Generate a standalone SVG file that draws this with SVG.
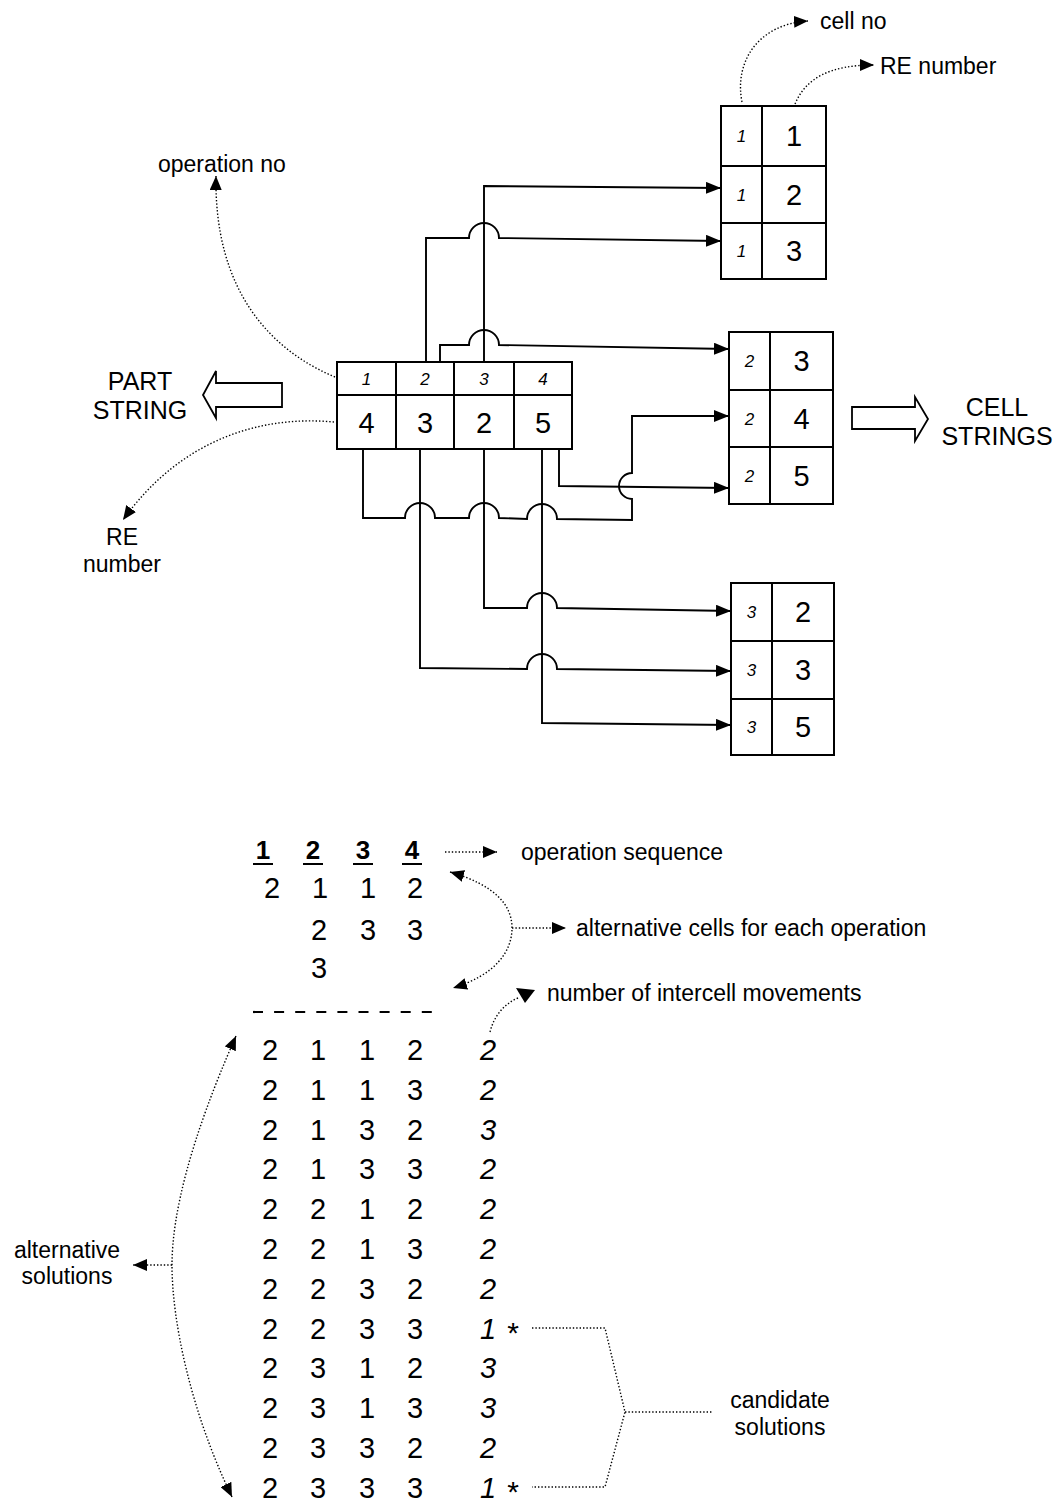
<svg xmlns="http://www.w3.org/2000/svg" width="1056" height="1505" viewBox="0 0 1056 1505">
<style>
text{font-family:"Liberation Sans",Arial,sans-serif;fill:#000}
.box{fill:#fff;stroke:#000;stroke-width:2}
.dv{stroke:#000;stroke-width:2;fill:none}
.big{font-size:29px;text-anchor:middle}
.sm{font-size:17px;font-style:italic;text-anchor:middle}
.op{font-size:17px;font-style:italic;text-anchor:middle}
.lbl{font-size:23px}
.lblc{font-size:23px;text-anchor:middle}
.cap{font-size:25px;text-anchor:middle}
.con{fill:none;stroke:#000;stroke-width:1.9}
.dot{fill:none;stroke:#000;stroke-width:1.4;stroke-dasharray:1.4 2}
.hol{fill:#fff;stroke:#000;stroke-width:1.8}
.num{font-size:29px;text-anchor:middle}
.it{font-size:29px;font-style:italic;text-anchor:middle}
.hd{font-size:26px;font-weight:bold;text-anchor:middle}
.ast{font-size:30px;text-anchor:middle}
</style>
<defs>
<marker id="arr" markerUnits="userSpaceOnUse" markerWidth="15" markerHeight="12" refX="15" refY="6" orient="auto"><path d="M0,0 L15,6 L0,12 z" fill="#000"/></marker>
<marker id="ad" markerUnits="userSpaceOnUse" markerWidth="14" markerHeight="12" refX="14" refY="6" orient="auto-start-reverse"><path d="M0,0 L14,6 L0,12 z" fill="#000"/></marker>
</defs>

<g id="connectors">
<path class="con" marker-end="url(#arr)" d="M484,362 L484,186 L721,188"/>
<path class="con" marker-end="url(#arr)" d="M426,362 L426,238 L469,238 A15,15 0 0 1 499,238 L721,241"/>
<path class="con" marker-end="url(#arr)" d="M440,362 L440,345 L469,345 A15,15 0 0 1 499,345 L729,349"/>
<path class="con" marker-end="url(#arr)" d="M363,449 L363,518 L405,518 A15,15 0 0 1 435,518 L469,518 A15,15 0 0 1 499,518 L527,519 A15,15 0 0 1 557,519 L632,520 L632,499 A13,13 0 0 1 632,473 L632,416 L729,416"/>
<path class="con" marker-end="url(#arr)" d="M559,449 L559,486 L729,488"/>
<path class="con" marker-end="url(#arr)" d="M420,449 L420,668 L527,669 A15,15 0 0 1 557,669 L731,671"/>
<path class="con" marker-end="url(#arr)" d="M484,449 L484,608 L527,608 A15,15 0 0 1 557,608 L731,611"/>
<path class="con" marker-end="url(#arr)" d="M542,449 L542,723 L731,725"/>
</g>

<g id="part-string">
<rect class="box" x="337" y="362" width="235" height="87"/>
<path class="dv" d="M337,395 H572 M396,362 V449 M454,362 V449 M514,362 V449"/>
<text class="op" x="366.5" y="384.5">1</text>
<text class="op" x="425" y="384.5">2</text>
<text class="op" x="484" y="384.5">3</text>
<text class="op" x="543" y="384.5">4</text>
<text class="big" x="366.5" y="432.5">4</text>
<text class="big" x="425" y="432.5">3</text>
<text class="big" x="484" y="432.5">2</text>
<text class="big" x="543" y="432.5">5</text>
</g>

<g id="cell-string-1">
<rect class="box" x="721" y="106" width="105" height="173"/>
<path class="dv" d="M762,106 V279 M721,166 H826 M721,223 H826"/>
<text class="sm" x="741.5" y="142">1</text>
<text class="sm" x="741.5" y="200.5">1</text>
<text class="sm" x="741.5" y="257">1</text>
<text class="big" x="794" y="146.4">1</text>
<text class="big" x="794" y="205">2</text>
<text class="big" x="794" y="261.4">3</text>
</g>

<g id="cell-string-2">
<rect class="box" x="729" y="332" width="104" height="172"/>
<path class="dv" d="M770,332 V504 M729,390 H833 M729,447 H833"/>
<text class="sm" x="749.5" y="367">2</text>
<text class="sm" x="749.5" y="424.5">2</text>
<text class="sm" x="749.5" y="481.5">2</text>
<text class="big" x="801.5" y="371.4">3</text>
<text class="big" x="801.5" y="429">4</text>
<text class="big" x="801.5" y="486">5</text>
</g>

<g id="cell-string-3">
<rect class="box" x="731" y="583" width="103" height="172"/>
<path class="dv" d="M772,583 V755 M731,641 H834 M731,699 H834"/>
<text class="sm" x="751.5" y="618">3</text>
<text class="sm" x="751.5" y="676">3</text>
<text class="sm" x="751.5" y="733">3</text>
<text class="big" x="803" y="622.4">2</text>
<text class="big" x="803" y="680.4">3</text>
<text class="big" x="803" y="737.4">5</text>
</g>

<g id="part-string-label">
<polygon class="hol" points="282,383 216,383 216,371 203,395 216,418 216,407 282,407"/>
<text class="cap" x="140" y="390">PART</text>
<text class="cap" x="140" y="419">STRING</text>
</g>

<g id="cell-strings-label">
<polygon class="hol" points="852,407 915,407 915,397 928,419 915,441 915,429 852,429"/>
<text class="cap" x="997" y="416">CELL</text>
<text class="cap" x="997" y="445">STRINGS</text>
</g>

<g id="ann-cell-no">
<path class="dot" marker-end="url(#ad)" d="M742,102 C734,62 758,24 808,21"/>
<text class="lbl" x="820" y="29">cell no</text>
</g>
<g id="ann-re-number-top">
<path class="dot" marker-end="url(#ad)" d="M795,104 C806,78 830,65 874,65"/>
<text class="lbl" x="880" y="74">RE number</text>
</g>
<g id="ann-operation-no">
<path class="dot" marker-end="url(#ad)" d="M335,377 C270,350 214,290 216,176"/>
<text class="lbl" x="158" y="172">operation no</text>
</g>
<g id="ann-re-number-left">
<path class="dot" marker-end="url(#ad)" d="M334,422 C260,415 180,440 123,520"/>
<text class="lblc" x="122" y="545">RE</text>
<text class="lblc" x="122" y="572">number</text>
</g>

<g id="sequence-header">
<text class="hd" x="263" y="859">1</text>
<text class="hd" x="313" y="859">2</text>
<text class="hd" x="363" y="859">3</text>
<text class="hd" x="412" y="859">4</text>
<path stroke="#000" stroke-width="2" d="M253,864 H273 M303,864 H323 M353,864 H373 M402,864 H422"/>
<text class="num" x="272" y="898">2</text>
<text class="num" x="320" y="898">1</text>
<text class="num" x="368" y="898">1</text>
<text class="num" x="415" y="898">2</text>
<text class="num" x="319" y="940">2</text>
<text class="num" x="368" y="940">3</text>
<text class="num" x="415" y="940">3</text>
<text class="num" x="319" y="978">3</text>
<path stroke="#000" stroke-width="2.2" stroke-dasharray="10 11.1" d="M253,1012 H432"/>
</g>

<g id="ann-operation-sequence">
<path class="dot" marker-end="url(#ad)" d="M445,852 L497,852"/>
<text class="lbl" x="521" y="860">operation sequence</text>
</g>
<g id="ann-alternative-cells">
<path class="dot" marker-start="url(#ad)" marker-end="url(#ad)" d="M450,872 C495,885 512,905 512,928 C512,952 495,975 453,988"/>
<path class="dot" marker-end="url(#ad)" d="M512,928 L566,928"/>
<text class="lbl" x="576" y="936">alternative cells for each operation</text>
</g>
<g id="ann-intercell">
<path class="dot" d="M490,1032 C494,1016 504,1004 518,998"/>
<polygon points="516,988 535,990 525,1003" fill="#000"/>
<text class="lbl" x="547" y="1001">number of intercell movements</text>
</g>

<g id="solutions">
<text class="num" x="270" y="1060">2</text><text class="num" x="318" y="1060">1</text><text class="num" x="367" y="1060">1</text><text class="num" x="415" y="1060">2</text><text class="it" x="488" y="1060">2</text>
<text class="num" x="270" y="1099.8">2</text><text class="num" x="318" y="1099.8">1</text><text class="num" x="367" y="1099.8">1</text><text class="num" x="415" y="1099.8">3</text><text class="it" x="488" y="1099.8">2</text>
<text class="num" x="270" y="1139.6">2</text><text class="num" x="318" y="1139.6">1</text><text class="num" x="367" y="1139.6">3</text><text class="num" x="415" y="1139.6">2</text><text class="it" x="488" y="1139.6">3</text>
<text class="num" x="270" y="1179.4">2</text><text class="num" x="318" y="1179.4">1</text><text class="num" x="367" y="1179.4">3</text><text class="num" x="415" y="1179.4">3</text><text class="it" x="488" y="1179.4">2</text>
<text class="num" x="270" y="1219.2">2</text><text class="num" x="318" y="1219.2">2</text><text class="num" x="367" y="1219.2">1</text><text class="num" x="415" y="1219.2">2</text><text class="it" x="488" y="1219.2">2</text>
<text class="num" x="270" y="1259">2</text><text class="num" x="318" y="1259">2</text><text class="num" x="367" y="1259">1</text><text class="num" x="415" y="1259">3</text><text class="it" x="488" y="1259">2</text>
<text class="num" x="270" y="1298.8">2</text><text class="num" x="318" y="1298.8">2</text><text class="num" x="367" y="1298.8">3</text><text class="num" x="415" y="1298.8">2</text><text class="it" x="488" y="1298.8">2</text>
<text class="num" x="270" y="1338.6">2</text><text class="num" x="318" y="1338.6">2</text><text class="num" x="367" y="1338.6">3</text><text class="num" x="415" y="1338.6">3</text><text class="it" x="488" y="1338.6">1</text>
<text class="num" x="270" y="1378.4">2</text><text class="num" x="318" y="1378.4">3</text><text class="num" x="367" y="1378.4">1</text><text class="num" x="415" y="1378.4">2</text><text class="it" x="488" y="1378.4">3</text>
<text class="num" x="270" y="1418.2">2</text><text class="num" x="318" y="1418.2">3</text><text class="num" x="367" y="1418.2">1</text><text class="num" x="415" y="1418.2">3</text><text class="it" x="488" y="1418.2">3</text>
<text class="num" x="270" y="1458">2</text><text class="num" x="318" y="1458">3</text><text class="num" x="367" y="1458">3</text><text class="num" x="415" y="1458">2</text><text class="it" x="488" y="1458">2</text>
<text class="num" x="270" y="1497.8">2</text><text class="num" x="318" y="1497.8">3</text><text class="num" x="367" y="1497.8">3</text><text class="num" x="415" y="1497.8">3</text><text class="it" x="488" y="1497.8">1</text>
<text class="ast" x="513" y="1343">*</text>
<text class="ast" x="513" y="1502">*</text>
</g>

<g id="ann-alternative-solutions">
<path class="dot" marker-start="url(#ad)" marker-end="url(#ad)" d="M236,1036 C190,1140 172,1215 172,1265 C172,1320 190,1410 232,1497"/>
<path class="dot" marker-end="url(#ad)" d="M172,1265 L133,1265"/>
<text class="lblc" x="67" y="1258">alternative</text>
<text class="lblc" x="67" y="1284">solutions</text>
</g>

<g id="ann-candidate-solutions">
<path class="dot" d="M532,1328 L605,1328 L625,1412 L605,1487 L532,1487 M625,1412 L712,1412"/>
<text class="lblc" x="780" y="1408">candidate</text>
<text class="lblc" x="780" y="1435">solutions</text>
</g>
</svg>
